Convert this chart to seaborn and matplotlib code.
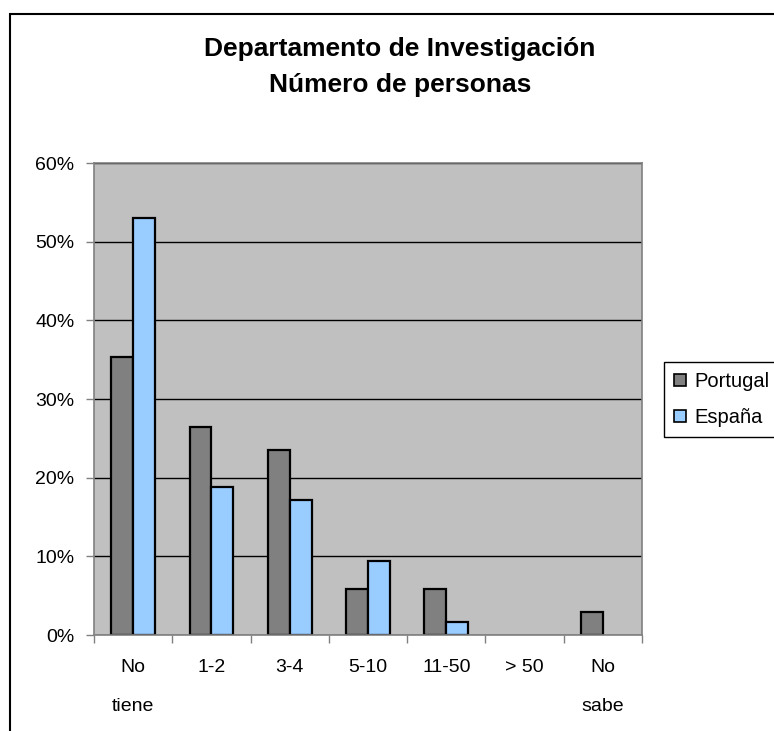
import pandas as pd
import numpy as np
import seaborn as sns
import matplotlib.pyplot as plt
from matplotlib.patches import Rectangle, Patch
from matplotlib.ticker import FixedLocator

categorias = ['No\ntiene', '1-2', '3-4', '5-10', '11-50', '> 50', 'No\nsabe']
portugal = [35.3, 26.5, 23.5, 5.9, 5.9, 0.0, 2.9]
espana = [53.0, 18.8, 17.1, 9.4, 1.7, 0.0, 0.0]
series = ['Portugal', 'España']
colores = ['#808080', '#99CCFF']

df = pd.DataFrame({
    'cat': categorias * 2,
    'valor': portugal + espana,
    'pais': ['Portugal'] * len(categorias) + ['España'] * len(categorias),
})

sns.set_style('white')
plt.rcParams['font.family'] = ['Liberation Sans', 'DejaVu Sans']
plt.rcParams['text.color'] = 'black'
plt.rcParams['xtick.color'] = 'black'
plt.rcParams['ytick.color'] = 'black'

fig = plt.figure(figsize=(7.74, 7.31), dpi=100)
ax = fig.add_axes([94 / 774, 1 - 635 / 731, 548 / 774, 472 / 731])
ax.set_facecolor('#C0C0C0')

sns.barplot(data=df, x='cat', y='valor', hue='pais', hue_order=series,
            palette=colores, width=0.56, edgecolor='black', linewidth=1.6,
            saturation=1, ax=ax, legend=False)

# barras con valor cero no se ven en el original
for p in ax.patches:
    if p.get_height() == 0:
        p.set_linewidth(0)

ax.set_ylim(0, 60)
ax.set_xlim(-0.5, len(categorias) - 0.5)
ax.set_yticks(range(0, 61, 10))
ax.set_yticklabels([f'{v}%' for v in range(0, 61, 10)])
ax.yaxis.grid(True, color='black', linewidth=1)
ax.set_axisbelow(True)
ax.set_xlabel('')
ax.set_ylabel('')

ax.tick_params(axis='y', direction='out', length=6, width=1, color='#808080',
               labelcolor='black', pad=8, labelsize=14, left=True)
ax.tick_params(axis='x', which='major', length=0, pad=17, labelsize=14,
               labelcolor='black')
ax.xaxis.set_minor_locator(FixedLocator(np.arange(-0.5, len(categorias), 1)))
ax.tick_params(axis='x', which='minor', direction='out', length=6, width=1,
               color='#808080', bottom=True)
for lbl in ax.get_xticklabels():
    lbl.set_linespacing(2.7)

for s in ax.spines.values():
    s.set_color('#808080')
    s.set_linewidth(1.2)
    s.set_zorder(5)

fig.text(400 / 774, 1 - 67 / 731,
         'Departamento de Investigación\nNúmero de personas',
         ha='center', va='center', fontsize=19, fontweight='bold',
         linespacing=1.6, color='black')

handles = [Patch(facecolor=c, edgecolor='black', linewidth=1.2) for c in colores]
fig.legend(handles, series, loc='upper left',
           bbox_to_anchor=(664 / 774, 1 - 362 / 731), fontsize=14.5,
           frameon=True, fancybox=False, framealpha=1, edgecolor='black',
           handlelength=0.6, handleheight=0.6, handletextpad=0.4,
           labelspacing=0.85, borderpad=0.5, borderaxespad=0)

fig.add_artist(Rectangle((9.5 / 774, -0.1), 2, 1 - 13.5 / 731 + 0.1,
                         transform=fig.transFigure, fill=False,
                         edgecolor='black', linewidth=1.5))

fig.savefig('out.png', dpi=100)
